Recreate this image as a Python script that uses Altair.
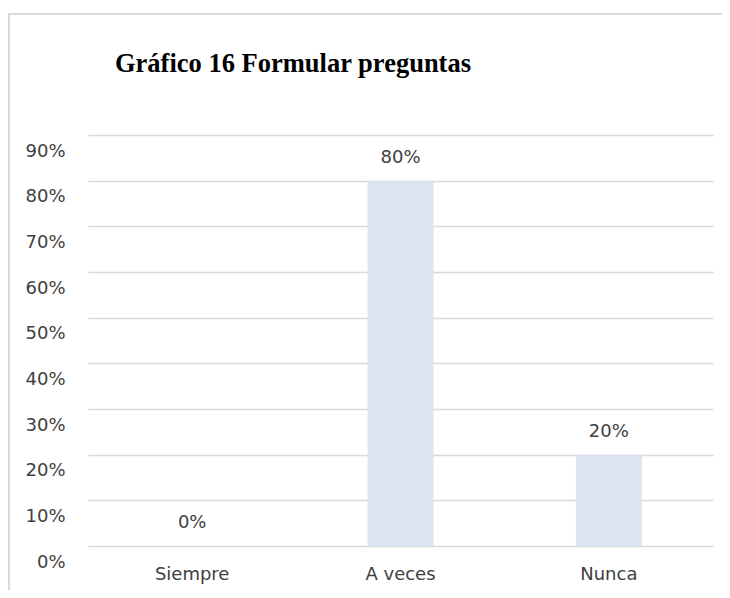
import altair as alt
import pandas as pd

categories = ["Siempre", "A veces", "Nunca"]
values = [0.0, 0.80, 0.20]
y_ticks = [0.0, 0.1, 0.2, 0.3, 0.4, 0.5, 0.6, 0.7, 0.8, 0.9]
title_text = "Gráfico 16 Formular preguntas"

df = pd.DataFrame({"cat": categories, "val": values})
tdf = pd.DataFrame({"t": [title_text]})

W, H = 625, 411
TEXT = "#404040"
GRID = "#d9d9d9"

x_enc = alt.X("cat:N", sort=categories, title=None,
              scale=alt.Scale(paddingInner=0, paddingOuter=0),
              axis=alt.Axis(labelAngle=0, labelFontSize=18, labelFont="DejaVu Sans",
                            labelColor=TEXT, labelPadding=19, domain=False, ticks=False,
                            grid=False, labelBaseline="top"))
y_enc = alt.Y("val:Q", title=None,
              scale=alt.Scale(domain=[0, 0.9], nice=False),
              axis=alt.Axis(values=y_ticks, format=".0%", labelFontSize=18,
                            labelFont="DejaVu Sans", labelColor=TEXT, labelPadding=23,
                            domain=False, ticks=False, grid=True, gridColor=GRID,
                            gridWidth=1.3, labelBaseline="middle", labelOffset=16))

base = alt.Chart(df)

frame = base.mark_rect(fill="transparent", stroke=GRID, strokeWidth=2, clip=False).encode(
    x=alt.value(-79), x2=alt.value(W + 60), y=alt.value(-121), y2=alt.value(H + 100)
).transform_filter(alt.datum.cat == "Siempre")

title = alt.Chart(tdf).mark_text(font="Liberation Serif", fontSize=26.5, fontWeight="bold",
                                 color="black", align="left", baseline="alphabetic").encode(
    x=alt.value(27), y=alt.value(-63), text="t:N")

bars = base.mark_bar(color="#dde4f1", size=66).encode(x=x_enc, y=y_enc)

labels = base.mark_text(fontSize=18, font="DejaVu Sans", color=TEXT,
                        baseline="alphabetic", dy=-18).encode(
    x=alt.X("cat:N", sort=categories),
    y=alt.Y("val:Q"),
    text=alt.Text("val:Q", format=".0%"),
)

chart = alt.layer(frame, title, bars, labels).properties(
    width=W, height=H,
    autosize=alt.AutoSizeParams(type="none"),
    padding={"left": 80, "top": 127, "right": 9, "bottom": 44},
).configure(background="white").configure_view(stroke=None)

chart.save("out.html", embed_options={"renderer": "svg", "actions": False})
